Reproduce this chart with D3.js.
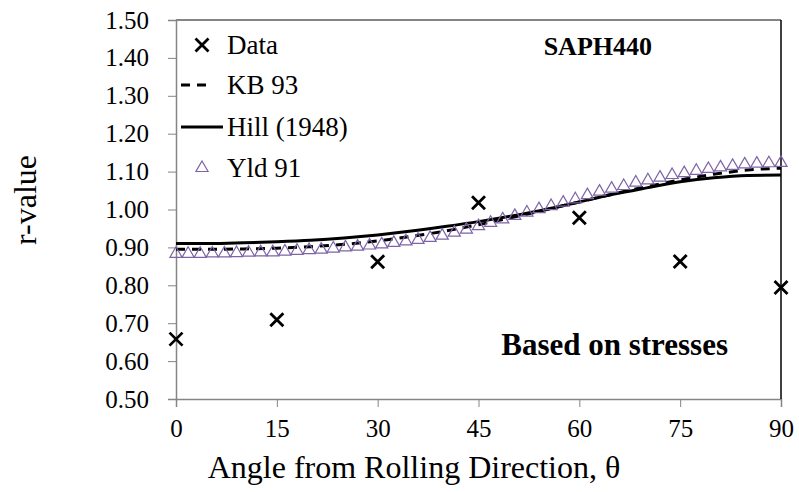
<!DOCTYPE html>
<html>
<head>
<meta charset="utf-8">
<script src="https://cdn.jsdelivr.net/npm/d3@7"></script>
<style>
  body { margin: 0; background: #fff; }
  svg text { font-family: "Liberation Serif", "Times New Roman", serif; }
</style>
</head>
<body>
<svg id="chart" width="799" height="492"></svg>
<script>
// ----- //
// data
// ----- //
const dataAngles = [0, 15, 30, 45, 60, 75, 90];
const dataR = [0.658, 0.709, 0.862, 1.018, 0.978, 0.863, 0.794];

// model curves, every 5 degrees
const curveAngles = [0, 5, 10, 15, 20, 25, 30, 35, 40, 45, 50, 55, 60, 65, 70, 75, 80, 85, 90];
const kb93R = [0.895, 0.895, 0.896, 0.898, 0.902, 0.908, 0.917, 0.929, 0.943, 0.960,
               0.979, 0.999, 1.020, 1.041, 1.060, 1.078, 1.093, 1.104, 1.109];
const hillR = [0.910, 0.910, 0.912, 0.915, 0.919, 0.925, 0.933, 0.943, 0.955, 0.968,
               0.983, 1.000, 1.020, 1.040, 1.057, 1.073, 1.084, 1.090, 1.091];

// Yld 91 markers
const yldAngles = [0, 1.8, 3.6, 5.4, 7.2, 9, 10.8, 12.6, 14.4, 16.2, 18, 19.8, 21.6, 23.4, 25.2,
                   27, 28.8, 30.6, 32.4, 34.2, 36, 37.8, 39.6, 41.4, 43.2, 45, 46.8, 48.6, 50.4,
                   52.2, 54, 55.8, 57.6, 59.4, 61.2, 63, 64.8, 66.6, 68.4, 70.2, 72, 73.8, 75.6,
                   77.4, 79.2, 81, 82.8, 84.6, 86.4, 88.2, 90];
const yldR = [0.883, 0.883, 0.883, 0.884, 0.884, 0.885, 0.886, 0.887, 0.887, 0.889, 0.891,
              0.893, 0.894, 0.897, 0.900, 0.902, 0.905, 0.908, 0.912, 0.916, 0.920, 0.925,
              0.931, 0.939, 0.947, 0.956, 0.965, 0.974, 0.983, 0.992, 1.001, 1.009, 1.018,
              1.027, 1.038, 1.047, 1.055, 1.062, 1.071, 1.077, 1.084, 1.091, 1.096, 1.102,
              1.107, 1.111, 1.115, 1.119, 1.121, 1.122, 1.123];

const xTicks = [0, 15, 30, 45, 60, 75, 90];
const yTicks = [0.5, 0.6, 0.7, 0.8, 0.9, 1.0, 1.1, 1.2, 1.3, 1.4, 1.5];

const legendNames = ["Data", "KB 93", "Hill (1948)", "Yld 91"];

// ----- //
// layout
// ----- //
const svg = d3.select("#chart");
const plot = { left: 176, right: 781, top: 20, bottom: 399 };
const serif = "Liberation Serif";
const purple = "#7f63a6";

const x = d3.scaleLinear().domain([0, 90]).range([plot.left, plot.right]);
const y = d3.scaleLinear().domain([0.5, 1.5]).range([plot.bottom, plot.top]);

svg.append("rect").attr("width", 799).attr("height", 492).attr("fill", "#fff");

// y axis
const yAxis = svg.append("g")
    .attr("transform", `translate(${plot.left},0)`)
    .call(d3.axisLeft(y).tickValues(yTicks).tickFormat(d3.format(".2f")).tickSize(8).tickPadding(19))
    .attr("font-family", serif).attr("font-size", 25);
yAxis.select(".domain").attr("stroke", "#858585").attr("stroke-width", 1.5);
yAxis.selectAll(".tick line").attr("stroke", "#858585");
yAxis.selectAll(".tick text").attr("fill", "#000");

// x axis
const xAxis = svg.append("g")
    .attr("transform", `translate(0,${plot.bottom})`)
    .call(d3.axisBottom(x).tickValues(xTicks).tickSize(8).tickPadding(12))
    .attr("font-family", serif).attr("font-size", 25);
xAxis.select(".domain").attr("stroke", "#858585").attr("stroke-width", 1.5);
xAxis.selectAll(".tick line").attr("stroke", "#858585");
xAxis.selectAll(".tick text").attr("fill", "#000");

// frame top and right
svg.append("line")
    .attr("x1", plot.left).attr("x2", plot.right)
    .attr("y1", plot.top).attr("y2", plot.top)
    .attr("stroke", "#858585").attr("stroke-width", 2);
svg.append("line")
    .attr("x1", plot.right).attr("x2", plot.right)
    .attr("y1", plot.top).attr("y2", plot.bottom)
    .attr("stroke", "#000").attr("stroke-width", 1.5);

// axis titles
svg.append("text")
    .attr("transform", "translate(36,200) rotate(-90)")
    .attr("text-anchor", "middle")
    .attr("font-size", 32)
    .text("r-value");
svg.append("text")
    .attr("x", 414).attr("y", 478)
    .attr("text-anchor", "middle")
    .attr("font-size", 32)
    .text("Angle from Rolling Direction, θ");

// ----- //
// series
// ----- //
const line = d3.line().x(d => x(d[0])).y(d => y(d[1])).curve(d3.curveMonotoneX);

svg.append("path")
    .datum(d3.zip(curveAngles, hillR))
    .attr("d", line)
    .attr("fill", "none").attr("stroke", "#000").attr("stroke-width", 3);

svg.append("path")
    .datum(d3.zip(curveAngles, kb93R))
    .attr("d", line)
    .attr("fill", "none").attr("stroke", "#000").attr("stroke-width", 3)
    .attr("stroke-dasharray", "9,7");

const tri = d3.symbol().type(d3.symbolTriangle).size(64);
svg.append("g").selectAll("path")
    .data(d3.zip(yldAngles, yldR))
    .join("path")
    .attr("transform", d => `translate(${x(d[0])},${y(d[1])})`)
    .attr("d", tri)
    .attr("fill", "none").attr("stroke", purple).attr("stroke-width", 1.2);

function cross(g, cx, cy) {
    g.append("path")
        .attr("d", `M${cx - 6.5},${cy - 6.5}L${cx + 6.5},${cy + 6.5}M${cx - 6.5},${cy + 6.5}L${cx + 6.5},${cy - 6.5}`)
        .attr("stroke", "#000").attr("stroke-width", 2.8).attr("fill", "none");
}
const dataG = svg.append("g");
d3.zip(dataAngles, dataR).forEach(d => cross(dataG, x(d[0]), y(d[1])));

// ----- //
// legend
// ----- //
const legend = svg.append("g");
const rowY = [45, 85, 127, 168];
legendNames.forEach((name, i) => {
    legend.append("text")
        .attr("x", 227).attr("y", rowY[i] + 9)
        .attr("font-family", serif)
        .attr("font-size", 27)
        .text(name);
});
cross(legend, 202, rowY[0]);
legend.append("line")
    .attr("x1", 181).attr("x2", 213).attr("y1", rowY[1]).attr("y2", rowY[1])
    .attr("stroke", "#000").attr("stroke-width", 3).attr("stroke-dasharray", "9,7");
legend.append("line")
    .attr("x1", 181).attr("x2", 223).attr("y1", rowY[2]).attr("y2", rowY[2])
    .attr("stroke", "#000").attr("stroke-width", 3);
legend.append("path")
    .attr("transform", `translate(202,${rowY[3]})`)
    .attr("d", tri)
    .attr("fill", "none").attr("stroke", purple).attr("stroke-width", 1.2);

// labels inside the plot
svg.append("text")
    .attr("x", 652).attr("y", 55)
    .attr("text-anchor", "end")
    .attr("font-family", serif)
    .attr("font-size", 26).attr("font-weight", "bold")
    .text("SAPH440");
svg.append("text")
    .attr("x", 728).attr("y", 355)
    .attr("text-anchor", "end")
    .attr("font-family", serif)
    .attr("font-size", 31).attr("font-weight", "bold")
    .text("Based on stresses");
</script>
</body>
</html>
